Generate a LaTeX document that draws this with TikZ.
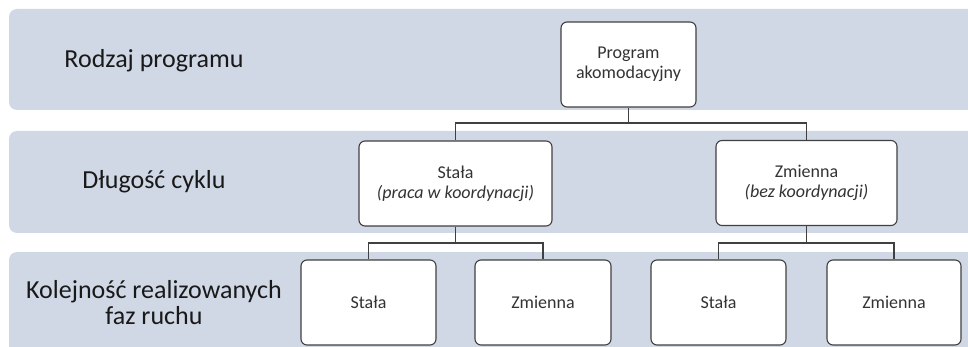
\documentclass[tikz,border=0pt]{standalone}
\usepackage{fontspec}
\setmainfont{Carlito}
\definecolor{bandblue}{HTML}{D0D7E5}
\definecolor{linegray}{HTML}{404040}
\definecolor{textgray}{HTML}{333333}
\begin{document}
\begin{tikzpicture}[x=1pt,y=-1pt,
    band/.style={fill=bandblue,rounded corners=8pt},
    box/.style={rectangle,draw=linegray,fill=white,line width=1.1pt,rounded corners=6pt,
        align=center,inner sep=0pt,minimum height=85pt,text=textgray,
        font=\fontsize{18}{20}\selectfont},
    level/.style={align=center,inner sep=0pt,text=black!90,font=\fontsize{26}{26}\selectfont},
    link/.style={draw=linegray,line width=1.1pt}]
            \useasboundingbox (0,0) rectangle (968,347);
            \clip (0,0) rectangle (968,347);
            \fill[band] (9,9) rectangle (990,110);
            \fill[band] (9,131) rectangle (990,233);
            \fill[band] (9,252) rectangle (990,380);
            \node[level] (rodzaj) at (154,61) {Rodzaj programu};
            \node[level] (dlugosc) at (154,182) {Długość cyklu};
            \node[level] (kolejnosc) at (154,303) {Kolejność realizowanych\\faz ruchu};
            \node[box,minimum width=135pt] (prog) at (628.5,64.5) {Program\\akomodacyjny};
            \node[box,minimum width=193pt] (stala) at (455.5,183.5) {Stała\\{\itshape (praca w koordynacji)}};
            \node[box,minimum width=181pt] (zmienna) at (806.5,183) {Zmienna\\{\itshape (bez koordynacji)}};
            \node[box,minimum width=135pt] (stalaA) at (368.5,302.5) {Stała};
            \node[box,minimum width=136pt] (zmiennaA) at (543,302.5) {Zmienna};
            \node[box,minimum width=135pt] (stalaB) at (718.5,302.5) {Stała};
            \node[box,minimum width=134pt] (zmiennaB) at (894,302.5) {Zmienna};
            \draw[link] (prog.south) -- (prog.south |- 0,123) -| (stala.north);
            \draw[link] (prog.south |- 0,123) -| (zmienna.north);
            \draw[link] (stala.south) -- (stala.south |- 0,243) -| (stalaA.north);
            \draw[link] (stala.south |- 0,243) -| (zmiennaA.north);
            \draw[link] (zmienna.south) -- (zmienna.south |- 0,243) -| (stalaB.north);
            \draw[link] (zmienna.south |- 0,243) -| (zmiennaB.north);
        \end{tikzpicture}
\end{document}
